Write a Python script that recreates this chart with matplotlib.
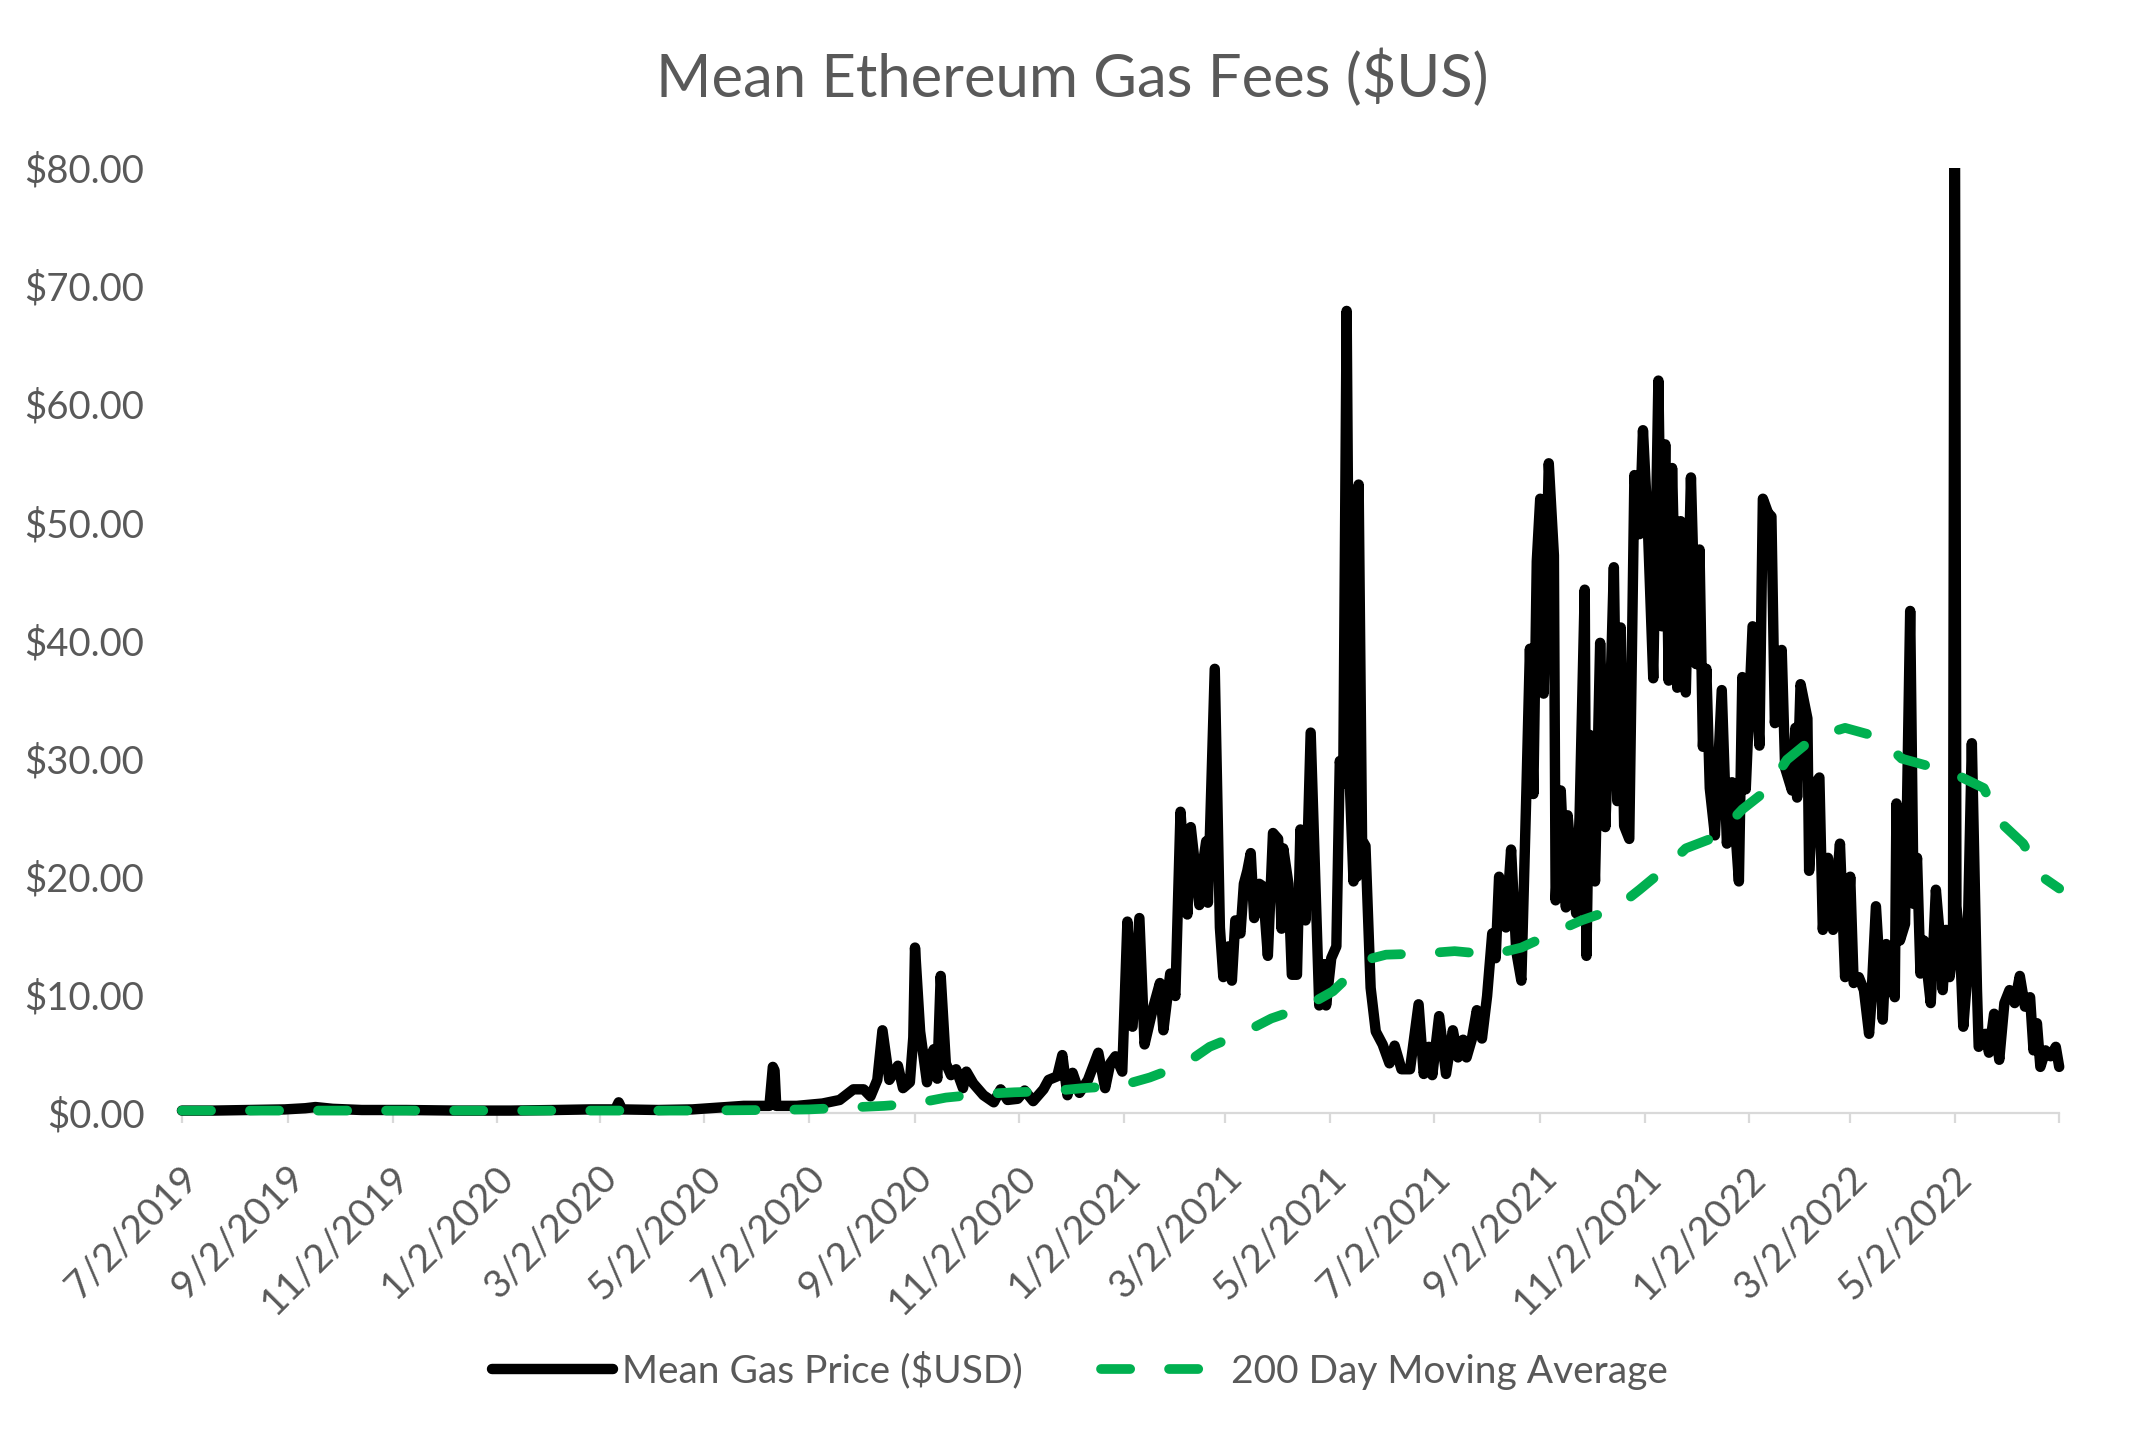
import matplotlib
matplotlib.use('Agg')
import matplotlib.pyplot as plt
import pandas as pd
from matplotlib.transforms import Bbox, TransformedBbox, ScaledTranslation

# ---------------- data ----------------
gas_dates = [
    '2019-07-02', '2019-07-20', '2019-08-10', '2019-08-31', '2019-09-12', '2019-09-18',
    '2019-09-28', '2019-10-15', '2019-11-10', '2019-12-10', '2020-01-10', '2020-02-05',
    '2020-02-25', '2020-03-11', '2020-03-13', '2020-03-15', '2020-04-05', '2020-04-25',
    '2020-05-05', '2020-05-15', '2020-05-25', '2020-06-09', '2020-06-11', '2020-06-12',
    '2020-06-13', '2020-06-25', '2020-07-10', '2020-07-20', '2020-07-28', '2020-08-03',
    '2020-08-07', '2020-08-11', '2020-08-14', '2020-08-18', '2020-08-23', '2020-08-26',
    '2020-08-30', '2020-09-01', '2020-09-02', '2020-09-05', '2020-09-09', '2020-09-11',
    '2020-09-13', '2020-09-15', '2020-09-17', '2020-09-20', '2020-09-23', '2020-09-26',
    '2020-09-30', '2020-10-02', '2020-10-06', '2020-10-12', '2020-10-18', '2020-10-22',
    '2020-10-26', '2020-11-01', '2020-11-05', '2020-11-10', '2020-11-16', '2020-11-19',
    '2020-11-24', '2020-11-27', '2020-11-30', '2020-12-03', '2020-12-07', '2020-12-12',
    '2020-12-18', '2020-12-22', '2020-12-25', '2020-12-28', '2021-01-01', '2021-01-04',
    '2021-01-07', '2021-01-11', '2021-01-14', '2021-01-19', '2021-01-23', '2021-01-25',
    '2021-01-29', '2021-02-01', '2021-02-04', '2021-02-08', '2021-02-10', '2021-02-15',
    '2021-02-17', '2021-02-19', '2021-02-20', '2021-02-24', '2021-02-27', '2021-03-01',
    '2021-03-04', '2021-03-06', '2021-03-08', '2021-03-11', '2021-03-13', '2021-03-15',
    '2021-03-17', '2021-03-19', '2021-03-22', '2021-03-24', '2021-03-27', '2021-03-30',
    '2021-04-02', '2021-04-04', '2021-04-05', '2021-04-08', '2021-04-10', '2021-04-13',
    '2021-04-15', '2021-04-18', '2021-04-21', '2021-04-24', '2021-04-26', '2021-04-29',
    '2021-04-30', '2021-05-03', '2021-05-06', '2021-05-08', '2021-05-10', '2021-05-12',
    '2021-05-14', '2021-05-16', '2021-05-17', '2021-05-18', '2021-05-19', '2021-05-21',
    '2021-05-23', '2021-05-26', '2021-05-29', '2021-06-02', '2021-06-06', '2021-06-09',
    '2021-06-13', '2021-06-18', '2021-06-23', '2021-06-26', '2021-06-29', '2021-07-01',
    '2021-07-05', '2021-07-09', '2021-07-13', '2021-07-16', '2021-07-19', '2021-07-21',
    '2021-07-24', '2021-07-27', '2021-07-30', '2021-08-02', '2021-08-05', '2021-08-07',
    '2021-08-09', '2021-08-13', '2021-08-16', '2021-08-19', '2021-08-22', '2021-08-25',
    '2021-08-27', '2021-08-29', '2021-08-31', '2021-09-02', '2021-09-04', '2021-09-07',
    '2021-09-10', '2021-09-11', '2021-09-14', '2021-09-17', '2021-09-18', '2021-09-21',
    '2021-09-23', '2021-09-25', '2021-09-28', '2021-09-29', '2021-10-01', '2021-10-04',
    '2021-10-07', '2021-10-10', '2021-10-13', '2021-10-15', '2021-10-17', '2021-10-19',
    '2021-10-21', '2021-10-24', '2021-10-27', '2021-10-30', '2021-11-01', '2021-11-04',
    '2021-11-07', '2021-11-10', '2021-11-12', '2021-11-14', '2021-11-16', '2021-11-18',
    '2021-11-21', '2021-11-23', '2021-11-26', '2021-11-29', '2021-12-02', '2021-12-04',
    '2021-12-06', '2021-12-08', '2021-12-10', '2021-12-13', '2021-12-17', '2021-12-20',
    '2021-12-23', '2021-12-27', '2021-12-29', '2021-12-31', '2022-01-04', '2022-01-08',
    '2022-01-10', '2022-01-13', '2022-01-15', '2022-01-17', '2022-01-21', '2022-01-23',
    '2022-01-27', '2022-01-29', '2022-01-30', '2022-02-01', '2022-02-05', '2022-02-06',
    '2022-02-09', '2022-02-12', '2022-02-14', '2022-02-17', '2022-02-20', '2022-02-24',
    '2022-02-27', '2022-03-02', '2022-03-04', '2022-03-07', '2022-03-10', '2022-03-13',
    '2022-03-14', '2022-03-17', '2022-03-21', '2022-03-23', '2022-03-28', '2022-03-29',
    '2022-03-31', '2022-04-03', '2022-04-06', '2022-04-08', '2022-04-10', '2022-04-12',
    '2022-04-14', '2022-04-18', '2022-04-21', '2022-04-23', '2022-04-25', '2022-04-27',
    '2022-04-29', '2022-05-01', '2022-05-02', '2022-05-03', '2022-05-05', '2022-05-07',
    '2022-05-09', '2022-05-12', '2022-05-15', '2022-05-16', '2022-05-20', '2022-05-22',
    '2022-05-25', '2022-05-28', '2022-05-31', '2022-06-03', '2022-06-06', '2022-06-09',
    '2022-06-12', '2022-06-15', '2022-06-17', '2022-06-19', '2022-06-21', '2022-06-24',
    '2022-06-27', '2022-06-30', '2022-07-02',
]
gas_values = [
    0.2, 0.2, 0.25, 0.3, 0.4, 0.5,
    0.35, 0.25, 0.25, 0.2, 0.2, 0.25,
    0.3, 0.3, 0.9, 0.3, 0.25, 0.3,
    0.4, 0.5, 0.6, 0.6, 3.9, 3.6,
    0.6, 0.6, 0.8, 1.1, 2.0, 2.0,
    1.4, 2.8, 7.0, 2.8, 4.0, 2.1,
    2.6, 6.4, 14.0, 6.9, 2.6, 4.8,
    5.4, 2.9, 11.6, 4.2, 3.2, 3.7,
    2.1, 3.5, 2.5, 1.5, 0.9, 2.0,
    1.1, 1.2, 1.9, 1.0, 2.0, 2.8,
    3.1, 4.9, 1.5, 3.4, 1.7, 2.8,
    5.1, 2.1, 4.2, 4.8, 3.5, 16.2,
    7.3, 16.5, 5.8, 8.9, 11.0, 7.0,
    11.8, 9.9, 25.5, 16.8, 24.2, 17.6,
    21.0, 23.0, 17.8, 37.6, 15.7, 11.5,
    14.1, 11.2, 16.3, 15.2, 19.4, 20.5,
    22.0, 16.5, 19.4, 19.2, 13.3, 23.7,
    23.2, 15.6, 22.4, 19.4, 11.7, 11.7,
    24.0, 16.3, 32.2, 18.4, 9.1, 12.6,
    9.1, 13.1, 14.1, 29.8, 27.9, 67.9,
    27.3, 19.6, 42.0, 20.0, 53.2, 23.1,
    22.6, 10.6, 6.9, 5.8, 4.2, 5.7,
    3.7, 3.7, 9.2, 3.3, 5.6, 3.2,
    8.2, 3.3, 7.0, 4.7, 6.2, 4.7,
    6.2, 8.7, 6.3, 9.9, 15.2, 13.1,
    20.0, 15.7, 22.3, 13.7, 11.2, 27.6,
    39.3, 27.0, 46.7, 52.0, 35.5, 55.0,
    47.2, 18.0, 27.3, 17.4, 25.2, 20.0,
    16.9, 25.2, 44.3, 13.3, 32.0, 19.6,
    39.8, 24.2, 35.6, 46.2, 26.4, 41.1,
    24.3, 23.2, 54.0, 49.0, 57.8, 49.0,
    36.8, 62.0, 41.2, 56.6, 36.6, 54.6,
    36.0, 50.1, 35.6, 53.8, 38.0, 47.7,
    31.0, 37.6, 27.5, 23.5, 35.8, 22.8,
    28.0, 19.6, 36.9, 27.4, 41.2, 31.1,
    52.0, 50.8, 50.5, 33.0, 39.2, 29.2,
    27.3, 32.6, 26.7, 36.3, 33.4, 20.5,
    27.8, 28.4, 15.5, 21.6, 15.5, 22.8,
    11.5, 20.0, 11.0, 11.5, 10.4, 6.7,
    8.7, 17.5, 7.9, 14.3, 9.8, 26.2,
    14.6, 16.0, 42.5, 17.7, 21.6, 11.8,
    14.6, 9.3, 18.9, 15.5, 10.4, 15.5,
    11.5, 13.8, 95.0, 17.5, 14.5, 7.3,
    11.0, 31.3, 10.4, 5.6, 6.7, 5.1,
    8.4, 4.5, 9.3, 10.4, 9.3, 11.6,
    9.0, 9.8, 5.3, 7.6, 3.9, 5.3,
    4.8, 5.6, 3.9,
]

ma_dates = [
    '2019-07-02', '2019-10-30', '2020-02-27', '2020-04-27', '2020-06-06', '2020-07-02',
    '2020-07-31', '2020-08-15', '2020-09-02', '2020-09-20', '2020-10-11', '2020-10-30',
    '2020-11-21', '2020-12-09', '2020-12-31', '2021-01-17', '2021-02-06', '2021-02-21',
    '2021-03-13', '2021-03-29', '2021-04-18', '2021-05-04', '2021-05-12', '2021-05-19',
    '2021-05-27', '2021-06-04', '2021-06-26', '2021-07-14', '2021-08-05', '2021-08-22',
    '2021-09-09', '2021-09-26', '2021-10-16', '2021-10-30', '2021-11-14', '2021-11-26',
    '2021-12-14', '2021-12-29', '2022-01-12', '2022-01-24', '2022-02-09', '2022-02-27',
    '2022-03-19', '2022-04-01', '2022-04-21', '2022-05-02', '2022-05-19', '2022-05-28',
    '2022-06-11', '2022-06-22', '2022-07-02',
]
ma_values = [
    0.2, 0.2, 0.2, 0.2, 0.25, 0.3,
    0.5, 0.6, 0.8, 1.3, 1.6, 1.75,
    1.85, 2.1, 2.3, 3.0, 4.1, 5.6,
    6.8, 8.0, 9.0, 10.3, 11.4, 12.3,
    13.1, 13.4, 13.5, 13.7, 13.4, 14.0,
    15.2, 16.3, 17.3, 18.9, 20.7, 22.4,
    23.4, 25.7, 27.3, 29.9, 31.8, 32.6,
    31.8, 30.0, 29.2, 28.7, 27.5, 24.7,
    22.8, 20.0, 19.0,
]

tick_dates = [
    '2019-07-02', '2019-09-02', '2019-11-02', '2020-01-02', '2020-03-02', '2020-05-02',
    '2020-07-02', '2020-09-02', '2020-11-02', '2021-01-02', '2021-03-02', '2021-05-02',
    '2021-07-02', '2021-09-02', '2021-11-02', '2022-01-02', '2022-03-02', '2022-05-02',
    '2022-07-02',
]
tick_labels = [
    '7/2/2019', '9/2/2019', '11/2/2019', '1/2/2020', '3/2/2020', '5/2/2020',
    '7/2/2020', '9/2/2020', '11/2/2020', '1/2/2021', '3/2/2021', '5/2/2021',
    '7/2/2021', '9/2/2021', '11/2/2021', '1/2/2022', '3/2/2022', '5/2/2022',
    '',
]
y_ticks = [0, 10, 20, 30, 40, 50, 60, 70, 80]

title = 'Mean Ethereum Gas Fees ($US)'
series_names = ['Mean Gas Price ($USD)', '200 Day Moving Average']

# ---------------- style ----------------
TEXT = '#595959'
AXIS = '#D9D9D9'
GREEN = '#00B050'

plt.rcParams['font.family'] = ['Lato', 'DejaVu Sans']

fig = plt.figure(figsize=(21.45, 14.37), dpi=100)
ax = fig.add_axes([0.0848, 0.2255, 0.960 - 0.0848, 0.8831 - 0.2255])

l1, = ax.plot(pd.to_datetime(gas_dates), gas_values, color='black', lw=7.5,
              solid_joinstyle='round', solid_capstyle='round',
              label=series_names[0], zorder=3)
l2, = ax.plot(pd.to_datetime(ma_dates), ma_values, color=GREEN, lw=7.0,
              dashes=(3.0, 4.0), dash_capstyle='round', dash_joinstyle='round',
              label=series_names[1], zorder=4)

# clip at top of plot only (allow line thickness below zero)
clipbox = TransformedBbox(Bbox([[-0.01, -0.05], [1.01, 1.0]]), ax.transAxes)
for ln in (l1, l2):
    ln.set_clip_box(clipbox)

ax.set_xlim(pd.Timestamp(tick_dates[0]), pd.Timestamp(tick_dates[-1]))
ax.set_ylim(0, 80)

for s in ('top', 'right', 'left'):
    ax.spines[s].set_visible(False)
ax.spines['bottom'].set_color(AXIS)
ax.spines['bottom'].set_linewidth(1.6)
ax.spines['bottom'].set_zorder(1)

ax.set_yticks(y_ticks)
ax.set_yticklabels(['${:.2f}'.format(v) for v in y_ticks])
ax.tick_params(axis='y', length=0, pad=27, labelsize=27.5, labelcolor=TEXT)

ax.set_xticks(pd.to_datetime(tick_dates))
ax.set_xticklabels(tick_labels)
ax.tick_params(axis='x', direction='out', length=7.5, width=1.6, color=AXIS,
               pad=35, labelsize=28, labelcolor=TEXT)
shift = ScaledTranslation(0.11, 0, fig.dpi_scale_trans)
for lab in ax.get_xticklabels():
    lab.set_rotation(45)
    lab.set_ha('right')
    lab.set_va('center')
    lab.set_rotation_mode('anchor')
    lab.set_transform(lab.get_transform() + shift)

fig.text(0.5, 0.946, title, ha='center', va='center', fontsize=43, color=TEXT)

fig.legend(handles=[l1, l2], loc='center', bbox_to_anchor=(0.5035, 0.046),
           ncol=2, frameon=False, fontsize=28, handlelength=3.1,
           handletextpad=0.25, columnspacing=2.0, labelcolor=TEXT)

fig.savefig('out.png', dpi=100)
